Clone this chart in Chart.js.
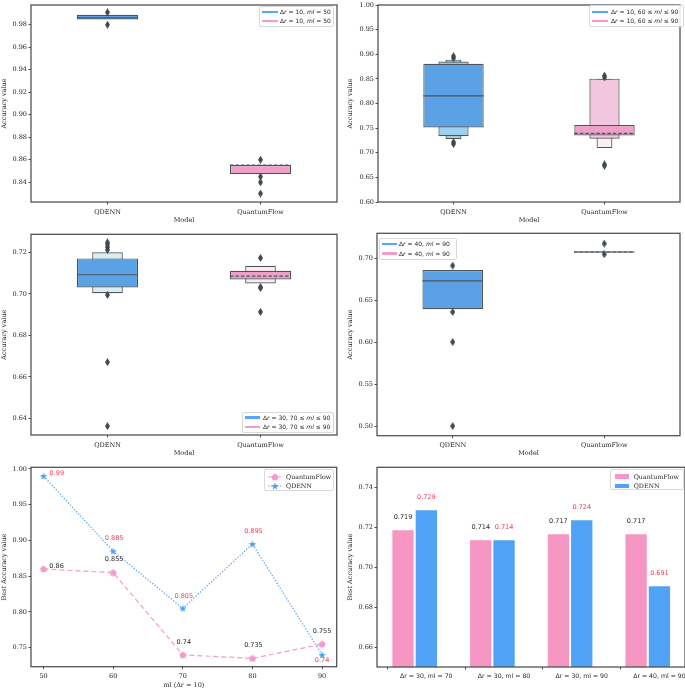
<!DOCTYPE html>
<html>
<head>
<meta charset="utf-8">
<script src="https://cdn.jsdelivr.net/npm/chart.js@4.4.1/dist/chart.umd.min.js"></script>
<style>
  body { margin: 0; background: #fff; width: 685px; height: 689px; position: relative; overflow: hidden; }
  canvas { position: absolute; }
  .legend { position: absolute; background: rgba(255,255,255,0.85); border: 1px solid #d9d9d9; border-radius: 2px; box-sizing: border-box; font-family: "DejaVu Sans"; font-size: 6px; color: #262626; }
  .legend.serif { font-family: "DejaVu Serif"; font-size: 6.3px; }
  .legend .txt { position: absolute; white-space: nowrap; line-height: 7px; }
  .legend .sw { position: absolute; }
</style>
</head>
<body>
<canvas id="c1" width="342" height="228" style="left:0;top:0"></canvas>
<canvas id="c2" width="343" height="228" style="left:342px;top:0"></canvas>
<canvas id="c3" width="342" height="230" style="left:0;top:228px"></canvas>
<canvas id="c4" width="343" height="230" style="left:342px;top:228px"></canvas>
<canvas id="c5" width="342" height="231" style="left:0;top:458px"></canvas>
<canvas id="c6" width="343" height="231" style="left:342px;top:458px"></canvas>
<script>
const models = ['QDENN', 'QuantumFlow'];

// top left: Δr = 10, ml = 50
const aTicks = [0.84, 0.86, 0.88, 0.90, 0.92, 0.94, 0.96, 0.98];
const aBoxes = [[0.9847, 0.9888], [0.8473, 0.8553]];
const aMedians = [0.9860, 0.8553];
const aOutQDENN = [0.991, 0.980];
const aOutQF = [0.860, 0.845, 0.840, 0.830];

// top right: Δr = 10, 60 <= ml <= 90
const bTicks = [0.60, 0.65, 0.70, 0.75, 0.80, 0.85, 0.90, 0.95, 1.00];
const bBoxes = [[0.7515, 0.8806], [0.7349, 0.7563]];
const bBoxes2 = [[0.7335, 0.8852], [0.7283, 0.8505]];
const bBoxes3 = [[0.7280, 0.8890], [0.7094, 0.8500]];
const bMedians = [0.8156, 0.7395];
const bOutQDENN = [0.896, 0.892, 0.7215, 0.718];
const bOutQF = [0.8565, 0.853, 0.6765, 0.6735];

// middle left: Δr = 30, 70 <= ml <= 90
const cTicks = [0.64, 0.66, 0.68, 0.70, 0.72];
const cBoxes = [[0.7031, 0.7171], [0.7069, 0.7111]];
const cBoxes2 = [[0.7003, 0.7200], [0.7050, 0.7135]];
const cMedians = [0.7092, 0.7085];
const cOutQDENN = [0.7248, 0.7238, 0.7225, 0.7212, 0.6995, 0.6671, 0.6363];
const cOutQF = [0.7173, 0.7033, 0.7028, 0.6913];

// middle right: Δr = 40, ml = 90
const dTicks = [0.50, 0.55, 0.60, 0.65, 0.70];
const dBoxes = [[0.6392, 0.6861], [0.7066, 0.7084]];
const dMedians = [0.6730, 0.7075];
const dOutQDENN = [0.6913, 0.6360, 0.6002, 0.5000];
const dOutQF = [0.7175, 0.7048];

// bottom left: best accuracy vs ml (Δr = 10)
const mlValues = [50, 60, 70, 80, 90];
const qfBest = [0.86, 0.855, 0.74, 0.735, 0.755];
const qdennBest = [0.99, 0.885, 0.805, 0.895, 0.74];
const eTicks = [0.75, 0.80, 0.85, 0.90, 0.95, 1.00];

// bottom right: best accuracy per setting
const settings = ['Δr = 30, ml = 70', 'Δr = 30, ml = 80', 'Δr = 30, ml = 90', 'Δr = 40, ml = 90'];
const qfSetting = [0.719, 0.714, 0.717, 0.717];
const qdennSetting = [0.729, 0.714, 0.724, 0.691];
const fTicks = [0.66, 0.68, 0.70, 0.72, 0.74];

const edge = '#4b5559';
const blue = '#5aa1e6';
const pink = '#f0a0c8';
const lineBlue = '#56a7f7';
const linePink = '#f69bc8';
const red = '#f23d58';

Chart.defaults.font.family = '"DejaVu Serif"';
Chart.defaults.font.size = 6.5;
Chart.defaults.color = '#262626';

function marker(w, h, color, pts) {
    const c = document.createElement('canvas');
    c.width = w; c.height = h;
    const g = c.getContext('2d');
    g.fillStyle = color;
    g.beginPath();
    pts.forEach((p, i) => i ? g.lineTo(p[0], p[1]) : g.moveTo(p[0], p[1]));
    g.closePath();
    g.fill();
    return c;
}

const diamond = marker(5, 8, '#3d4a4f', [[2.5, 0], [5, 4], [2.5, 8], [0, 4]]);
const pentagon = marker(8, 8, linePink, [0, 1, 2, 3, 4].map(k => {
    const a = (-90 + 72 * k) * Math.PI / 180;
    return [4 + 3.8 * Math.cos(a), 4.3 + 3.8 * Math.sin(a)];
}));
const star = marker(8, 8, '#4a9ff0', [0, 1, 2, 3, 4, 5, 6, 7, 8, 9].map(k => {
    const a = (-90 + 36 * k) * Math.PI / 180;
    const r = k % 2 ? 1.6 : 3.9;
    return [4 + r * Math.cos(a), 4.4 + r * Math.sin(a)];
}));

// axes frame on all four sides
const framePlugin = {
    id: 'frame',
    afterDraw(chart) {
        const a = chart.chartArea, ctx = chart.ctx;
        ctx.save();
        ctx.strokeStyle = '#4d4d4d';
        ctx.lineWidth = 1.25;
        ctx.strokeRect(a.left, a.top, a.right - a.left, a.bottom - a.top);
        ctx.restore();
    }
};

// median line across the widest box
const medianPlugin = {
    id: 'medians',
    afterDatasetsDraw(chart, args, opts) {
        if (!opts.values) return;
        const meta = chart.getDatasetMeta(opts.boxDataset);
        const y = chart.scales.y, ctx = chart.ctx;
        opts.values.forEach((m, i) => {
            const bar = meta.data[i];
            if (m == null || !bar) return;
            const py = y.getPixelForValue(m);
            ctx.save();
            ctx.strokeStyle = edge;
            ctx.lineWidth = 1.2;
            ctx.setLineDash(opts.dashed[i] ? [3.5, 2] : []);
            ctx.beginPath();
            ctx.moveTo(bar.x - bar.width / 2, py);
            ctx.lineTo(bar.x + bar.width / 2, py);
            ctx.stroke();
            ctx.restore();
        });
    }
};

// value annotations next to points / above bars
const valueLabelPlugin = {
    id: 'valueLabels',
    afterDatasetsDraw(chart, args, opts) {
        if (!opts.sets) return;
        const ctx = chart.ctx;
        opts.sets.forEach(s => {
            const meta = chart.getDatasetMeta(s.dataset);
            const data = chart.data.datasets[s.dataset].data;
            meta.data.forEach((el, i) => {
                const v = typeof data[i] === 'object' ? data[i].y : data[i];
                const off = s.offsets ? s.offsets[i] : [0, -12];
                ctx.save();
                ctx.font = '6.5px "DejaVu Sans"';
                ctx.fillStyle = s.color;
                ctx.textAlign = 'center';
                ctx.textBaseline = 'middle';
                ctx.fillText(String(v), el.x + off[0], el.y + off[1]);
                ctx.restore();
            });
        });
    }
};

Chart.register(framePlugin, medianPlugin, valueLabelPlugin);

const tickGrid = { display: true, drawOnChartArea: false, drawTicks: true, tickLength: 2.5, color: '#4d4d4d', lineWidth: 1 };

function yAxis(min, max, ticks, width, title, titlePad) {
    return {
        min, max,
        afterBuildTicks: s => { s.ticks = ticks.map(v => ({ value: v })); },
        afterFit: s => { s.width = width; s.paddingTop = 0; s.paddingBottom = 0; },
        ticks: { callback: v => v.toFixed(2), padding: 1.5 },
        grid: tickGrid,
        border: { display: false },
        title: { display: true, text: title, padding: { top: titlePad, bottom: 0 } }
    };
}

function xLayout(height) {
    return s => { s.height = height; s.paddingLeft = 0; s.paddingRight = 0; };
}

function outliers(values, model) {
    return {
        type: 'line', showLine: false,
        data: values.map(v => ({ x: model, y: v })),
        pointStyle: diamond, pointRadius: 3,
        backgroundColor: '#3d4a4f', borderColor: '#3d4a4f'
    };
}

function boxenChart(id, o) {
    const datasets = [outliers(o.outQ, 'QDENN'), outliers(o.outF, 'QuantumFlow')];
    o.levels.forEach(l => datasets.push({
        type: 'bar', data: l.boxes, backgroundColor: l.colors,
        barPercentage: l.width, categoryPercentage: 1, grouped: false,
        borderColor: edge, borderWidth: 1.2, borderSkipped: false
    }));
    new Chart(document.getElementById(id), {
        type: 'bar',
        data: { labels: models, datasets },
        options: {
            responsive: false, animation: false, events: [],
            layout: { padding: { top: o.top, right: o.right, left: 0, bottom: 0 } },
            plugins: {
                legend: { display: false }, tooltip: { enabled: false },
                medians: { values: o.medians, dashed: [false, true], boxDataset: 2 }
            },
            scales: {
                x: {
                    type: 'category', offset: true,
                    afterFit: xLayout(o.xh),
                    ticks: { padding: 3.5 },
                    grid: Object.assign({}, tickGrid, { offset: false }),
                    border: { display: false },
                    title: { display: true, text: 'Model', padding: { top: 0, bottom: o.tp } }
                },
                y: yAxis(o.min, o.max, o.ticks, o.yw, 'Accuracy value', o.ytp)
            }
        }
    });
}

boxenChart('c1', {
    levels: [{ boxes: aBoxes, colors: [blue, pink], width: 0.4 }],
    medians: aMedians, outQ: aOutQDENN, outF: aOutQF,
    min: 0.8225, max: 0.9975, ticks: aTicks,
    top: 2.7, right: 2, xh: 26, tp: 4.1, yw: 31, ytp: 0
});
boxenChart('c2', {
    levels: [
        { boxes: bBoxes, colors: [blue, pink], width: 0.4 },
        { boxes: bBoxes2, colors: ['#9dd0ee', '#f3c6df'], width: 0.2 },
        { boxes: bBoxes3, colors: ['#b9cbd1', '#fbeff2'], width: 0.105 }
    ],
    medians: bMedians, outQ: bOutQDENN, outF: bOutQF,
    min: 0.60, max: 1.00, ticks: bTicks,
    top: 2.7, right: 0, xh: 26, tp: 4.1, yw: 36, ytp: 4
});
boxenChart('c3', {
    levels: [
        { boxes: cBoxes, colors: [blue, pink], width: 0.4 },
        { boxes: cBoxes2, colors: ['#daedf2', '#fbe9ef'], width: 0.2 }
    ],
    medians: cMedians, outQ: cOutQDENN, outF: cOutQF,
    min: 0.632, max: 0.7287, ticks: cTicks,
    top: 6.3, right: 2, xh: 23, tp: 1.1, yw: 31, ytp: 0
});
boxenChart('c4', {
    levels: [{ boxes: dBoxes, colors: [blue, pink], width: 0.4 }],
    medians: dMedians, outQ: dOutQDENN, outF: dOutQF,
    min: 0.4885, max: 0.7298, ticks: dTicks,
    top: 5.3, right: 0, xh: 22.3, tp: 1.1, yw: 35, ytp: 4.4
});

new Chart(document.getElementById('c5'), {
    type: 'line',
    data: {
        datasets: [
            {
                label: 'QuantumFlow', data: mlValues.map((x, i) => ({ x, y: qfBest[i] })),
                borderColor: linePink, borderWidth: 1.2, borderDash: [5, 3],
                pointStyle: pentagon, pointRadius: 4, fill: false
            },
            {
                label: 'QDENN', data: mlValues.map((x, i) => ({ x, y: qdennBest[i] })),
                borderColor: lineBlue, borderWidth: 1.3, borderDash: [1.3, 1.7],
                pointStyle: star, pointRadius: 4, fill: false
            }
        ]
    },
    options: {
        responsive: false, animation: false, events: [],
        layout: { padding: { top: 9.3, right: 2, left: 0, bottom: 0 } },
        plugins: {
            legend: { display: false }, tooltip: { enabled: false },
            valueLabels: {
                sets: [
                    { dataset: 0, color: '#262626', offsets: [[13, -2.5], [1, -13], [1, -12.7], [1, -12.7], [0, -13]] },
                    { dataset: 1, color: red, offsets: [[13.3, -2.7], [1, -12.7], [1, -12.3], [1, -12.7], [0, 5.3]] }
                ]
            }
        },
        scales: {
            x: {
                type: 'linear', min: 48.2, max: 92.1,
                afterBuildTicks: s => { s.ticks = mlValues.map(v => ({ value: v })); },
                afterFit: xLayout(22.3),
                ticks: { callback: v => String(v), padding: 3.5 },
                grid: tickGrid, border: { display: false },
                title: { display: true, text: 'ml (Δr = 10)', padding: { top: 0, bottom: 0 } }
            },
            y: yAxis(0.7234, 1.0023, eTicks, 31, 'Best Accuracy value', 0)
        }
    }
});

// bars on a linear x so the tick can sit under the second bar of each pair
new Chart(document.getElementById('c6'), {
    type: 'bar',
    data: {
        datasets: [
            {
                label: 'QuantumFlow', data: qfSetting.map((y, i) => ({ x: i, y })),
                backgroundColor: '#f696c3', borderColor: 'rgba(255,255,255,0.7)', borderWidth: 1,
                categoryPercentage: 0.6, barPercentage: 1
            },
            {
                label: 'QDENN', data: qdennSetting.map((y, i) => ({ x: i, y })),
                backgroundColor: '#4fa2f6', borderColor: 'rgba(255,255,255,0.7)', borderWidth: 1,
                categoryPercentage: 0.6, barPercentage: 1
            }
        ]
    },
    options: {
        responsive: false, animation: false, events: [],
        layout: { padding: { top: 9.3, right: 0, left: 0, bottom: 0 } },
        plugins: {
            legend: { display: false }, tooltip: { enabled: false },
            valueLabels: {
                sets: [
                    { dataset: 0, color: '#262626' },
                    { dataset: 1, color: red }
                ]
            }
        },
        scales: {
            x: {
                type: 'linear', offset: false, min: -0.485, max: 3.479,
                afterBuildTicks: s => { s.ticks = settings.map((_, i) => ({ value: i + 0.15 })); },
                afterFit: xLayout(22),
                ticks: { callback: (v, i) => settings[i], padding: 3, autoSkip: false, maxRotation: 0, font: { family: '"DejaVu Sans"', size: 6.2 } },
                grid: tickGrid, border: { display: false }
            },
            y: yAxis(0.6502, 0.75, fTicks, 35, 'Best Accuracy value', 4.4)
        }
    }
});

// legends
function legend(left, top, w, h, serif, rows) {
    const box = document.createElement('div');
    box.className = 'legend' + (serif ? ' serif' : '');
    Object.assign(box.style, { left: left + 'px', top: top + 'px', width: w + 'px', height: h + 'px' });
    rows.forEach(r => {
        const sw = r.swatch;
        sw.classList.add('sw');
        box.appendChild(sw);
        const t = document.createElement('div');
        t.className = 'txt';
        t.innerHTML = r.html;
        t.style.left = r.tx + 'px';
        t.style.top = (r.y - 4) + 'px';
        box.appendChild(t);
    });
    document.body.appendChild(box);
}

function lineSwatch(color, x, y, w, thick) {
    const d = document.createElement('div');
    Object.assign(d.style, { left: x + 'px', top: (y - thick / 2) + 'px', width: w + 'px', height: thick + 'px', background: color });
    return d;
}

function markerSwatch(color, dash, m, x, y) {
    const c = document.createElement('canvas');
    c.width = 14; c.height = 8;
    const g = c.getContext('2d');
    g.strokeStyle = color; g.lineWidth = 1.2; g.setLineDash(dash);
    g.beginPath(); g.moveTo(0, 4); g.lineTo(14, 4); g.stroke();
    g.drawImage(m, 7 - m.width / 2, 4 - m.height / 2);
    c.style.left = x + 'px';
    c.style.top = (y - 4) + 'px';
    return c;
}

function rectSwatch(color, x, y) {
    const d = document.createElement('div');
    Object.assign(d.style, { left: x + 'px', top: (y - 2.4) + 'px', width: '14.3px', height: '4.8px', background: color });
    return d;
}

legend(259, 6, 75, 21, false, [
    { swatch: lineSwatch(lineBlue, 2, 5, 16, 2.6), tx: 20, y: 5, html: 'Δ<i>r</i> = 10, <i>ml</i> = 50' },
    { swatch: lineSwatch(linePink, 2, 14, 16, 2.6), tx: 20, y: 14, html: 'Δ<i>r</i> = 10, <i>ml</i> = 50' }
]);
legend(589, 5, 95, 22, false, [
    { swatch: lineSwatch(lineBlue, 2, 6, 16, 2.6), tx: 21, y: 6, html: 'Δ<i>r</i> = 10, 60 ≤ <i>ml</i> ≤ 90' },
    { swatch: lineSwatch(linePink, 2, 15, 16, 2.6), tx: 21, y: 15, html: 'Δ<i>r</i> = 10, 60 ≤ <i>ml</i> ≤ 90' }
]);
legend(242, 411.5, 92, 21, false, [
    { swatch: lineSwatch(lineBlue, 2, 5, 15, 2.6), tx: 20, y: 5, html: 'Δ<i>r</i> = 30, 70 ≤ <i>ml</i> ≤ 90' },
    { swatch: lineSwatch(linePink, 2, 14.5, 15, 2.6), tx: 20, y: 14.5, html: 'Δ<i>r</i> = 30, 70 ≤ <i>ml</i> ≤ 90' }
]);
legend(379, 237.5, 78, 22, false, [
    { swatch: lineSwatch(lineBlue, 2.3, 5.5, 15, 2.6), tx: 19, y: 5.5, html: 'Δ<i>r</i> = 40, <i>ml</i> = 90' },
    { swatch: lineSwatch(linePink, 2.3, 15, 15, 2.6), tx: 19, y: 15, html: 'Δ<i>r</i> = 40, <i>ml</i> = 90' }
]);
legend(264, 469, 70, 22, true, [
    { swatch: markerSwatch(linePink, [5, 3], pentagon, 3, 6.5), tx: 21, y: 6.5, html: 'QuantumFlow' },
    { swatch: markerSwatch(lineBlue, [1.3, 1.7], star, 3, 16), tx: 21, y: 16, html: 'QDENN' }
]);
legend(610, 469, 74, 21, true, [
    { swatch: rectSwatch('#f696c3', 3.7, 6.5), tx: 22.7, y: 6.5, html: 'QuantumFlow' },
    { swatch: rectSwatch('#4fa2f6', 3.7, 16), tx: 22.7, y: 16, html: 'QDENN' }
]);
</script>
</body>
</html>
